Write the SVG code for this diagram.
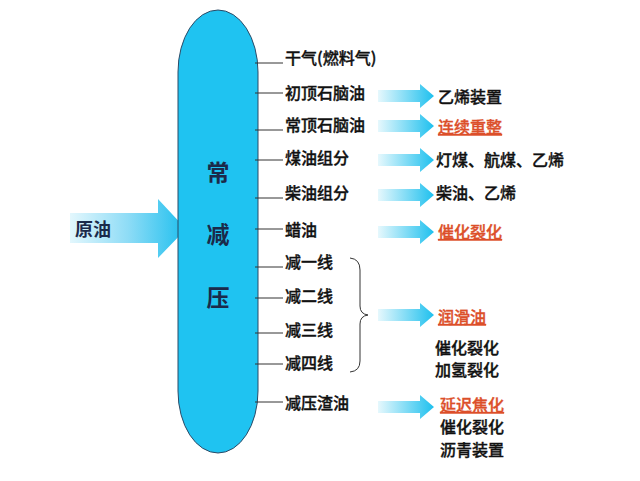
<svg xmlns="http://www.w3.org/2000/svg" width="640" height="481" viewBox="0 0 640 481">
<defs>
<linearGradient id="ga" x1="0" y1="0" x2="1" y2="0">
<stop offset="0" stop-color="#e6f8fd"/>
<stop offset="1" stop-color="#1ec0ee"/>
</linearGradient>
<linearGradient id="gb" x1="0" y1="0" x2="1" y2="0">
<stop offset="0" stop-color="#e3f7fd"/>
<stop offset="0.5" stop-color="#8edcf6"/>
<stop offset="1" stop-color="#1ebfee"/>
</linearGradient>
<path id="arr" d="M0,-6 H42 V-12 L56,0 L42,12 V6 H0 Z"/>
</defs>
<style>
text{font-family:"Noto Sans CJK SC","Noto Sans",sans-serif;font-size:16px;fill:#111;font-weight:500;stroke:#111;stroke-width:0.35}
.red{fill:#dc4f2a;stroke:#dc4f2a;text-decoration:underline}
.col{font-size:23px;font-weight:700;fill:#1b2a4a;stroke:none}
.tick{stroke:#333;stroke-width:1;fill:none}
</style>
<rect width="640" height="481" fill="#fff"/>
<g id="feed">
<path d="M70,213 H158 V199 L186,229 L158,258 V243 H70 Z" fill="url(#gb)"/>
<text x="75" y="236" style="font-size:18px;font-weight:700;fill:#1b2a4a;stroke:none">原油</text>
</g>
<g id="column">
<rect x="178" y="10" width="80" height="443" rx="40" ry="62" fill="#1fc3f1" stroke="#2b4a66" stroke-width="1"/>
<text class="col" x="218" y="181" text-anchor="middle">常</text>
<text class="col" x="218" y="243" text-anchor="middle">减</text>
<text class="col" x="218" y="306" text-anchor="middle">压</text>
</g>
<g id="connectors">
<path class="tick" d="M255,63 H283 M255,93 H283 M255,130 H283 M255,160 H283 M255,198 H283 M255,229 H283 M255,267 H283 M255,298 H283 M255,333 H283 M255,364 H283 M255,402 H283"/>
<path class="tick" d="M350,258 Q360,259 360,270 V306 Q360,314 368,315 Q360,316 360,324 V361 Q360,371 350,372"/>
<g fill="url(#ga)">
<use href="#arr" x="378" y="96"/>
<use href="#arr" x="378" y="126"/>
<use href="#arr" x="378" y="160"/>
<use href="#arr" x="378" y="195"/>
<use href="#arr" x="378" y="232"/>
<use href="#arr" x="378" y="315"/>
<use href="#arr" x="378" y="407"/>
</g>
</g>
<g id="products">
<text x="285" y="64">干气(燃料气)</text>
<text x="285" y="99">初顶石脑油</text>
<text x="285" y="131">常顶石脑油</text>
<text x="285" y="164">煤油组分</text>
<text x="285" y="199">柴油组分</text>
<text x="285" y="236">蜡油</text>
<text x="285" y="268">减一线</text>
<text x="285" y="302">减二线</text>
<text x="285" y="336">减三线</text>
<text x="285" y="369">减四线</text>
<text x="285" y="409">减压渣油</text>
</g>
<g id="uses">
<text x="438" y="103">乙烯装置</text>
<text class="red" x="438" y="133">连续重整</text>
<text x="436" y="166">灯煤、航煤、乙烯</text>
<text x="436" y="199">柴油、乙烯</text>
<text class="red" x="438" y="238">催化裂化</text>
<text class="red" x="438" y="323">润滑油</text>
<text x="435" y="354">催化裂化</text>
<text x="435" y="376">加氢裂化</text>
<text class="red" x="440" y="411">延迟焦化</text>
<text x="440" y="433">催化裂化</text>
<text x="440" y="456">沥青装置</text>
</g>
</svg>
